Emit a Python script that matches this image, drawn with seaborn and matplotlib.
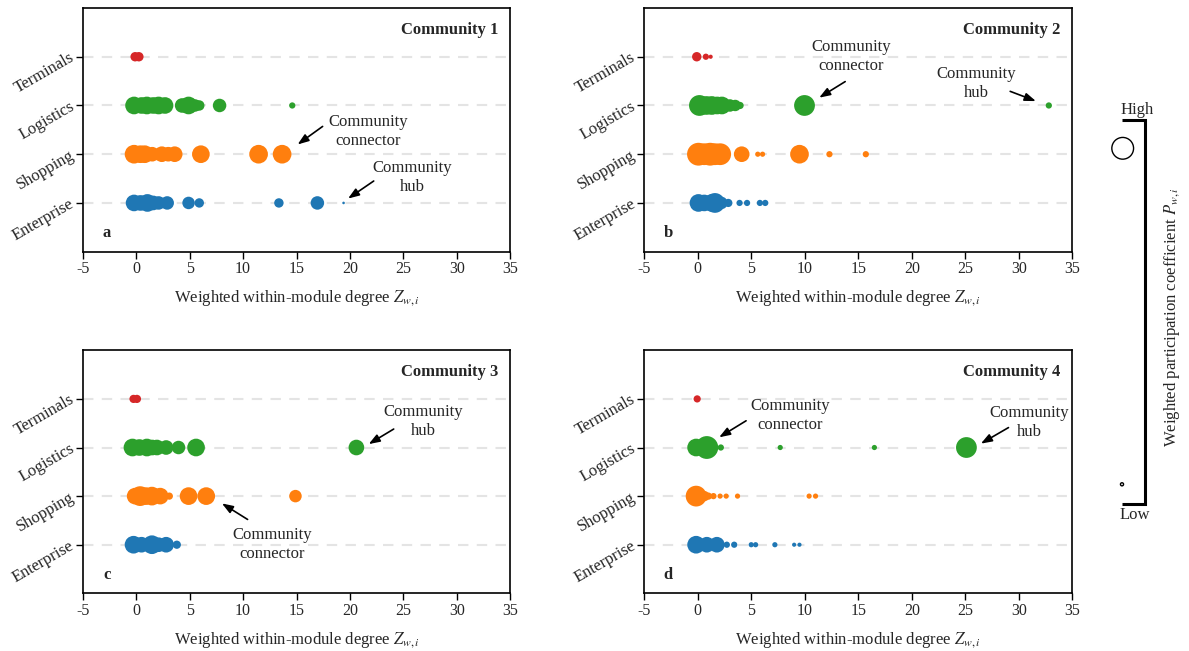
import numpy as np
import pandas as pd
import matplotlib
matplotlib.use("Agg")
import matplotlib.pyplot as plt
import seaborn as sns

# ---------------- data ----------------
categories = ["Enterprise", "Shopping", "Logistics", "Terminals"]
colors = ["#1f77b4", "#ff7f0e", "#2ca02c", "#d62728"]
xticks = [-5, 0, 5, 10, 15, 20, 25, 30, 35]
titles = ["Community 1", "Community 2", "Community 3", "Community 4"]
letters = ["a", "b", "c", "d"]

# Community 1  (z = weighted within-module degree, p = participation coefficient, relative)
c1_enterprise_z = [-0.2, 0.4, 1.05, 1.6, 2.1, 2.9, 4.9, 5.9, 13.35, 16.95, 19.4]
c1_enterprise_p = [0.53, 0.47, 0.60, 0.41, 0.35, 0.35, 0.30, 0.17, 0.17, 0.35, 0.013]
c1_shopping_z = [-0.2, 0.4, 0.8, 1.5, 2.4, 3.0, 3.6, 6.05, 11.45, 13.65]
c1_shopping_p = [0.67, 0.60, 0.60, 0.41, 0.47, 0.41, 0.47, 0.60, 0.67, 0.67]
c1_logistics_z = [-0.2, 0.5, 1.0, 1.6, 2.1, 2.7, 4.3, 4.9, 5.5, 5.9, 7.8, 14.6]
c1_logistics_p = [0.60, 0.53, 0.60, 0.53, 0.60, 0.53, 0.41, 0.60, 0.30, 0.21, 0.35, 0.075]
c1_terminals_z = [-0.1, 0.25]
c1_terminals_p = [0.17, 0.17]

# Community 2
c2_enterprise_z = [0.06, 0.6, 1.3, 1.6, 2.2, 2.85, 3.9, 4.6, 5.8, 6.3]
c2_enterprise_p = [0.60, 0.53, 0.60, 0.75, 0.30, 0.13, 0.075, 0.075, 0.075, 0.075]
c2_shopping_z = [0.06, 0.6, 1.15, 1.6, 2.09, 4.1, 5.6, 6.05, 9.5, 12.3, 15.7]
c2_shopping_p = [1.0, 0.91, 1.0, 0.91, 0.91, 0.47, 0.052, 0.052, 0.67, 0.075, 0.075]
c2_logistics_z = [0.15, 0.8, 1.3, 1.8, 2.25, 3.0, 3.5, 3.95, 9.97, 32.8]
c2_logistics_p = [0.83, 0.67, 0.67, 0.60, 0.60, 0.30, 0.25, 0.10, 0.83, 0.075]
c2_terminals_z = [-0.1, 0.75, 1.2]
c2_terminals_p = [0.17, 0.075, 0.033]

# Community 3
c3_enterprise_z = [-0.25, 0.5, 1.47, 2.1, 2.8, 3.8]
c3_enterprise_p = [0.60, 0.47, 0.67, 0.41, 0.47, 0.13]
c3_shopping_z = [-0.1, 0.37, 0.9, 1.47, 2.25, 3.1, 4.9, 6.55, 14.9]
c3_shopping_p = [0.53, 0.75, 0.60, 0.67, 0.53, 0.10, 0.60, 0.60, 0.30]
c3_logistics_z = [-0.35, 0.3, 1.0, 1.5, 1.94, 2.8, 3.96, 5.6, 20.6]
c3_logistics_p = [0.60, 0.53, 0.60, 0.47, 0.47, 0.41, 0.35, 0.60, 0.47]
c3_terminals_z = [-0.25, 0.07]
c3_terminals_p = [0.13, 0.13]

# Community 4
c4_enterprise_z = [-0.16, 0.84, 1.78, 2.71, 3.4, 4.99, 5.4, 7.2, 9.0, 9.5]
c4_enterprise_p = [0.60, 0.47, 0.47, 0.075, 0.075, 0.052, 0.052, 0.052, 0.033, 0.033]
c4_shopping_z = [-0.16, 0.6, 0.99, 1.46, 2.08, 2.65, 3.71, 10.4, 11.0]
c4_shopping_p = [0.83, 0.21, 0.10, 0.075, 0.052, 0.052, 0.052, 0.052, 0.052]
c4_logistics_z = [-0.16, 0.84, 2.15, 7.7, 16.5, 25.1]
c4_logistics_p = [0.60, 1.0, 0.075, 0.052, 0.052, 0.83]
c4_terminals_z = [-0.06]
c4_terminals_p = [0.10]

panels_z = [
    [c1_enterprise_z, c1_shopping_z, c1_logistics_z, c1_terminals_z],
    [c2_enterprise_z, c2_shopping_z, c2_logistics_z, c2_terminals_z],
    [c3_enterprise_z, c3_shopping_z, c3_logistics_z, c3_terminals_z],
    [c4_enterprise_z, c4_shopping_z, c4_logistics_z, c4_terminals_z],
]
panels_p = [
    [c1_enterprise_p, c1_shopping_p, c1_logistics_p, c1_terminals_p],
    [c2_enterprise_p, c2_shopping_p, c2_logistics_p, c2_terminals_p],
    [c3_enterprise_p, c3_shopping_p, c3_logistics_p, c3_terminals_p],
    [c4_enterprise_p, c4_shopping_p, c4_logistics_p, c4_terminals_p],
]

# annotations: (text, text_xy, arrow_start, arrow_tip) in data coords
annotations = [
    [("Community\nconnector", (21.66, 1.47), (17.44, 1.57), (15.10, 1.20)),
     ("Community\nhub", (25.81, 0.53), (22.22, 0.45), (19.82, 0.09))],
    [("Community\nconnector", (14.30, 3.01), (13.77, 2.49), (11.34, 2.16)),
     ("Community\nhub", (26.0, 2.46), (29.19, 2.29), (31.59, 2.09))],
    [("Community\nhub", (26.84, 2.53), (24.09, 2.38), (21.75, 2.07)),
     ("Community\nconnector", (12.71, 0.01), (10.42, 0.52), (8.02, 0.85))],
    [("Community\nconnector", (8.63, 2.65), (4.51, 2.55), (1.99, 2.21)),
     ("Community\nhub", (30.99, 2.52), (29.03, 2.41), (26.45, 2.08))],
]

# ---------------- style ----------------
sns.set_theme(style="ticks")
plt.rcParams["font.family"] = ["Liberation Serif", "DejaVu Serif"]
plt.rcParams["mathtext.fontset"] = "stix"
plt.rcParams["axes.unicode_minus"] = False

fig = plt.figure(figsize=(11.89, 6.51), dpi=100)
positions = [
    [0.0696, 0.6134, 0.3596, 0.3743],
    [0.5419, 0.6134, 0.3600, 0.3743],
    [0.0696, 0.0886, 0.3596, 0.3733],
    [0.5419, 0.0886, 0.3600, 0.3733],
]

for k in range(4):
    ax = fig.add_axes(positions[k])
    rows = []
    for ci, cat in enumerate(categories):
        for z, p in zip(panels_z[k][ci], panels_p[k][ci]):
            rows.append({"z": z, "yi": ci, "category": cat, "P": p})
    df = pd.DataFrame(rows)
    for ci in range(4):
        ax.axhline(ci, color="#e4e4e4", lw=1.5, ls=(0, (5, 4)), zorder=1)
    sns.scatterplot(data=df, x="z", y="yi", hue="category", hue_order=categories,
                    palette=colors, size="P", sizes=(0, 270), size_norm=(0, 1),
                    linewidth=0, legend=False, ax=ax, zorder=3)
    ax.set_xlim(-5, 35)
    ax.set_ylim(-1, 4)
    ax.set_xticks(xticks)
    ax.set_xticklabels([str(t) for t in xticks])
    ax.set_yticks(range(4))
    ax.set_yticklabels(categories, rotation=30, ha="right", va="center",
                       rotation_mode="anchor")
    ax.tick_params(axis="both", direction="out", length=5, width=1,
                   color="black", labelsize=12, pad=2, bottom=True, left=True)
    ax.tick_params(axis="x", labelsize=11.5)
    for s in ax.spines.values():
        s.set_visible(True)
        s.set_color("black")
        s.set_linewidth(1.2)
    ax.set_xlabel("Weighted within-module degree $Z_{w,i}$", fontsize=12, labelpad=8)
    ax.set_ylabel("")
    ax.text(0.972, 0.91, titles[k], transform=ax.transAxes, ha="right", va="center",
            fontsize=12, fontweight="bold")
    ax.text(0.056, 0.075, letters[k], transform=ax.transAxes, ha="center", va="center",
            fontsize=12, fontweight="bold")
    for txt, txy, start, tip in annotations[k]:
        ax.text(txy[0], txy[1], txt, ha="center", va="center", fontsize=12,
                linespacing=1.25, zorder=4)
        ax.annotate("", xy=tip, xytext=start,
                    arrowprops=dict(arrowstyle="-|>,head_length=0.55,head_width=0.2",
                                    color="black", lw=1.2, shrinkA=0, shrinkB=0),
                    zorder=4)

# ---------------- size legend (right side) ----------------
lax = fig.add_axes([0, 0, 1, 1])
lax.set_xlim(0, 1189)
lax.set_ylim(651, 0)
lax.axis("off")
lax.patch.set_alpha(0)
lax.plot([1121.7, 1145, 1145, 1121.7], [120, 120, 504.3, 504.3], color="black",
         lw=2.2, solid_joinstyle="miter", solid_capstyle="butt")
lax.scatter([1122.7, 1122.0], [148.3, 484.3], s=[245, 5], facecolors="none",
            edgecolors="black", linewidths=1)
lax.text(1136.7, 110, "High", ha="center", va="center", fontsize=12)
lax.text(1134.5, 515, "Low", ha="center", va="center", fontsize=12)
lax.text(1171.7, 317, "Weighted participation coefficient $P_{w,i}$", rotation=90,
         ha="center", va="center", fontsize=12)

fig.savefig("out.png", dpi=100)
